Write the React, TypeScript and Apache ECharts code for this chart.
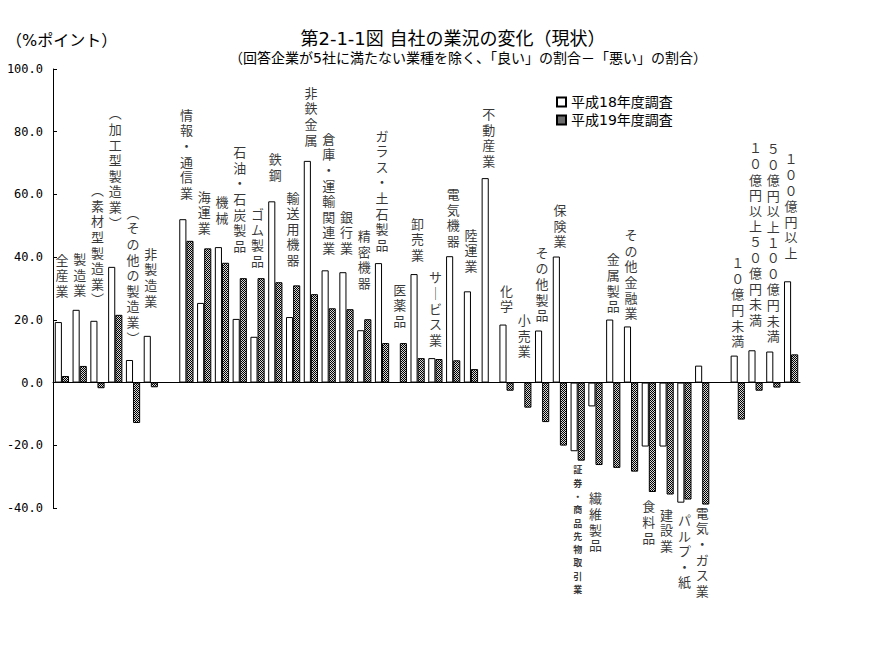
import React, { useEffect, useRef } from "react";
import * as echarts from "echarts";

const categories = [
  "全産業", "製造業", "（素材型製造業）", "（加工型製造業）", "（その他の製造業）", "非製造業", "",
  "情報・通信業", "海運業", "機械", "石油・石炭製品", "ゴム製品", "鉄鋼", "輸送用機器", "非鉄金属",
  "倉庫・運輸関連業", "銀行業", "精密機器", "ガラス・土石製品", "医薬品", "卸売業", "サービス業",
  "電気機器", "陸運業", "不動産業", "化学", "小売業", "その他製品", "保険業", "証券・商品先物取引業",
  "繊維製品", "金属製品", "その他金融業", "食料品", "建設業", "パルプ・紙", "電気・ガス業", " ",
  "１０億円未満", "１０億円以上５０億円未満", "５０億円以上１００億円未満", "１００億円以上",
];

const seriesNames = ["平成18年度調査", "平成19年度調査"];

const h18: (number | null)[] = [
  19.3, 23.2, 19.7, 36.9, 7.2, 14.9, null,
  52.1, 25.4, 43.2, 20.3, 14.6, 57.8, 20.9, 70.7, 35.8, 35.2, 16.7, 38.1, null, 34.6, 7.8,
  40.3, 29.1, 65.2, 18.5, null, 16.6, 40.2, -21.9, -7.6, 20.1, 17.9, -20.4, -20.4, -38.3, 5.4, null,
  8.6, 10.3, 9.9, 32.3,
];

const h19: (number | null)[] = [
  2.1, 5.3, -1.8, 21.6, -12.9, -1.5, null,
  45.2, 42.8, 38.2, 33.3, 33.3, 32.0, 31.0, 28.2, 23.7, 23.4, 20.2, 12.6, 12.6, 7.8, 7.5,
  7.1, 4.3, null, -2.6, -8.0, -12.6, -20.1, -24.9, -26.3, -27.2, -28.4, -34.9, -35.7, -37.3, -38.9, null,
  -11.8, -2.6, -1.6, 9.0,
];

const yTicks = { min: -40, max: 100, interval: 20 };

// layout only: which labels hang below the bars, and label gaps (px)
const labelBelow = ["証券・商品先物取引業", "繊維製品", "食料品", "建設業", "パルプ・紙", "電気・ガス業"];
const labelGap = [
  23, 11, 13, 36, 14, 27, 0,
  18, 12, 21, 24, 9, 18, 17, 13, 14, 16, 28, 10, 14, 11, 10,
  7, 17, 9, 10, 23, 7, 7, 3, 26, 5, 5, 7, 13, 10, 1, 0,
  6, 22, 7, 20,
];

const CJK = '"DejaVu Sans", "Noto Sans CJK JP", "Noto Sans CJK SC", sans-serif';

function toVertical(s: string): string {
  const map: Record<string, string> = { "（": "︵", "）": "︶", "ー": "｜" };
  return Array.from(s).map((c) => map[c] ?? c).join("\n");
}

function makePattern(): HTMLCanvasElement {
  const c = document.createElement("canvas");
  c.width = 2;
  c.height = 2;
  const ctx = c.getContext("2d")!;
  ctx.fillStyle = "#d8d8d8";
  ctx.fillRect(0, 0, 2, 2);
  ctx.fillStyle = "#000";
  ctx.fillRect(0, 0, 1, 1);
  ctx.fillRect(1, 1, 1, 1);
  return c;
}

export default function App() {
  const ref = useRef<HTMLDivElement>(null);
  useEffect(() => {
    const chart = echarts.init(ref.current!, null, { renderer: "svg" });
    const pattern = makePattern();

    const labelData = categories
      .map((name, i) => {
        if (!name.trim()) return null;
        const a = h18[i] ?? 0;
        const b = h19[i] ?? 0;
        const below = labelBelow.includes(name);
        const v = below ? Math.min(a, b, 0) : Math.max(a, b, 0);
        const small = name === "証券・商品先物取引業";
        return {
          value: [i, v],
          label: {
            show: true,
            position: below ? "bottom" : "top",
            distance: labelGap[i],
            formatter: toVertical(name),
            fontSize: small ? 9 : 13,
            lineHeight: small ? 13.3 : 15.6,
            fontWeight: small ? "bold" : "normal",
          },
        };
      })
      .filter((d) => d !== null);

    chart.setOption({
      animation: false,
      backgroundColor: "#fff",
      grid: { left: 53, right: 87, top: 69, bottom: 144, containLabel: false },
      graphic: [
        {
          type: "text",
          x: 453,
          y: 38,
          style: {
            text: "第2-1-1図 自社の業況の変化（現状）",
            fontSize: 18,
            fontWeight: "normal",
            fontFamily: CJK,
            fill: "#000",
            align: "center",
            verticalAlign: "middle",
          },
        },
        {
          type: "text",
          x: 468,
          y: 58,
          style: {
            text: "（回答企業が5社に満たない業種を除く、「良い」の割合－「悪い」の割合）",
            fontSize: 14,
            fontWeight: "normal",
            fontFamily: CJK,
            fill: "#000",
            align: "center",
            verticalAlign: "middle",
          },
        },
        {
          type: "text",
          x: 6,
          y: 40,
          style: {
            text: "（%ポイント）",
            fontSize: 16,
            fontWeight: "normal",
            fontFamily: CJK,
            fill: "#000",
            align: "left",
            verticalAlign: "middle",
          },
        },
      ],
      legend: {
        data: seriesNames,
        orient: "vertical",
        left: 556,
        top: 95,
        padding: 0,
        itemWidth: 9,
        itemHeight: 9,
        itemGap: 4,
        icon: "rect",
        textStyle: { fontSize: 14, fontFamily: CJK, color: "#000" },
      },
      xAxis: {
        type: "category",
        data: categories,
        axisLine: { show: true, onZero: true, lineStyle: { color: "#000", width: 1 } },
        axisTick: { show: false },
        axisLabel: { show: false },
        splitLine: { show: false },
      },
      yAxis: {
        type: "value",
        min: yTicks.min,
        max: yTicks.max,
        interval: yTicks.interval,
        axisLine: { show: true, lineStyle: { color: "#000", width: 1 } },
        axisTick: { show: true, inside: true, length: 4, lineStyle: { color: "#000" } },
        splitLine: { show: false },
        axisLabel: {
          formatter: (v: number) => v.toFixed(1),
          fontFamily: '"DejaVu Sans Mono", monospace',
          fontSize: 12,
          color: "#000",
          margin: 10,
        },
      },
      series: [
        {
          name: seriesNames[0],
          type: "bar",
          data: h18,
          barGap: "0%",
          barCategoryGap: "20%",
          itemStyle: { color: "#fff", borderColor: "#000", borderWidth: 1 },
        },
        {
          name: seriesNames[1],
          type: "bar",
          data: h19,
          barGap: "0%",
          barCategoryGap: "20%",
          itemStyle: {
            color: { image: pattern, repeat: "repeat", imageWidth: 2, imageHeight: 2 },
            borderColor: "#000",
            borderWidth: 1,
          },
        },
        {
          type: "scatter",
          data: labelData,
          symbol: "rect",
          symbolSize: 0.1,
          silent: true,
          z: 5,
          itemStyle: { color: "rgba(0,0,0,0)" },
          label: { show: true, color: "#000", fontFamily: CJK, align: "center" },
        },
      ],
    });
    return () => chart.dispose();
  }, []);
  return <div ref={ref} style={{ position: "fixed", left: 0, top: 0, width: 887, height: 652 }} />;
}
